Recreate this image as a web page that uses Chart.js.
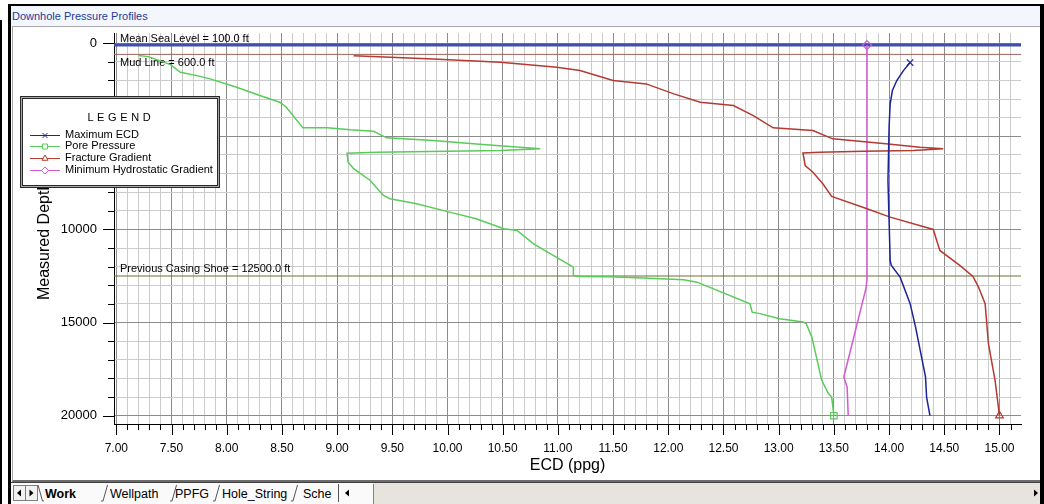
<!DOCTYPE html>
<html>
<head>
<meta charset="utf-8">
<title>Downhole Pressure Profiles</title>
<script src="https://cdn.jsdelivr.net/npm/chart.js@4.4.1/dist/chart.umd.min.js"></script>
<style>
  html, body { margin: 0; padding: 0; background: #fff; }
  #page { position: relative; width: 1044px; height: 504px; overflow: hidden; background: #fff;
          font-family: "Liberation Sans", Arial, sans-serif; }
  .edge { position: absolute; background: #000; }
  #titlebar { position: absolute; left: 11px; top: 6px; width: 1029px; height: 20px; background: #f3f6fc;
              color: #1d3c9b; font-size: 11px; line-height: 21px; padding-left: 1px; box-sizing: border-box; }
  #pane { position: absolute; left: 12px; top: 26px; width: 1028px; height: 456px; background: #fff;
          border-top: 1px solid #a8a8a8; border-left: 1px solid #a8a8a8; border-bottom: 2px solid #6c6c6c;
          box-sizing: border-box; }
  #tabs { position: absolute; left: 11px; top: 482px; }
  #tabs text { font-family: "Liberation Sans", Arial, sans-serif; font-size: 12.5px; fill: #000; }
  #chart { position: absolute; left: 0; top: 0; width: 1044px; height: 504px; }
</style>
</head>
<body>
<div id="page">
  <div class="edge" style="left:0;top:20px;width:2px;height:484px"></div>
  <div class="edge" style="left:8px;top:4px;width:3px;height:500px"></div>
  <div class="edge" style="left:8px;top:4px;width:1036px;height:2px"></div>
  <div class="edge" style="left:1040px;top:4px;width:4px;height:500px"></div>
  <div id="titlebar">Downhole Pressure Profiles</div>
  <div id="pane"></div>
  <svg id="tabs" width="1029" height="22" viewBox="0 0 1029 22">
    <rect x="0" y="0" width="1029" height="22" fill="#e6e4dc"/>
    <rect x="0" y="0" width="362" height="22" fill="#fafafa"/>
    <line x1="0" y1="0.5" x2="1029" y2="0.5" stroke="#404040"/>
    <rect x="2.5" y="3.5" width="12" height="15" fill="#f2f2f2" stroke="#808080"/>
    <rect x="14.5" y="3.5" width="12" height="15" fill="#f2f2f2" stroke="#808080"/>
    <polygon points="6,11 10,7.5 10,14.5" fill="#000"/>
    <polygon points="22.5,11 18.5,7.5 18.5,14.5" fill="#000"/>
    <polyline points="27,3 31.5,19 33,19" fill="none" stroke="#555"/>
    <text x="34" y="15.5" font-weight="bold">Work</text>
    <polyline points="90,19 92,19 96.5,3" fill="none" stroke="#555"/>
    <text x="99" y="15.5">Wellpath</text>
    <polyline points="159,19 161,19 165.5,3" fill="none" stroke="#555"/>
    <text x="164" y="15.5">PPFG</text>
    <polyline points="202,19 204,19 208.5,3" fill="none" stroke="#555"/>
    <text x="211" y="15.5">Hole_String</text>
    <polyline points="280,19 282,19 286.5,3" fill="none" stroke="#555"/>
    <text x="292" y="15.5">Sche</text>
    <line x1="327.5" y1="2" x2="327.5" y2="20" stroke="#555"/>
    <polygon points="334,11 338,7.5 338,14.5" fill="#000"/>
    <line x1="362.5" y1="2" x2="362.5" y2="22" stroke="#808080"/>
    <polygon points="1027,11 1023,7.5 1023,14.5" fill="#000"/>
  </svg>
  <canvas id="chart" width="1044" height="504"></canvas>
</div>
<script>
// Depth profiles: measured depth (ft) against equivalent circulating density (ppg)
const ecdDepth   = [1040, 1470, 2006, 2540, 3240, 4510, 7370, 9517, 11663, 11930, 12560, 13970, 15240, 17920, 19000, 20000];
const ecdValue   = [14.19, 14.13, 14.07, 14.03, 14.01, 14.00, 13.99, 14.00, 14.01, 14.02, 14.10, 14.19, 14.24, 14.33, 14.34, 14.37];

const poreDepth  = [665, 720, 1150, 1560, 1740, 1915, 2365, 2810, 3170, 3440,
                    4545, 4545, 4650, 4725, 5080, 5225, 5440, 5670, 5760, 5850,
                    5905, 6390, 6740, 7370, 8175, 8350, 8620, 9070, 9425, 9960,
                    10050, 10770, 11300, 12020, 12470, 12520, 12540, 12610, 12700, 12830,
                    13990, 14440, 14520, 14790, 14970, 15060, 15780, 18100, 18815, 19000, 20000];
const poreValue  = [7.20, 7.29, 7.49, 7.58, 7.73, 7.85, 8.09, 8.30, 8.48, 8.54,
                    8.69, 8.91, 9.12, 9.33, 9.45, 9.87, 10.32, 10.84, 10.48, 9.36,
                    9.09, 9.10, 9.15, 9.30, 9.42, 9.48, 9.72, 10.02, 10.26, 10.51,
                    10.63, 10.78, 10.93, 11.14, 11.14, 11.20, 11.47, 11.77, 12.14, 12.26,
                    12.74, 12.76, 12.83, 13.01, 13.22, 13.25, 13.30, 13.39, 13.45, 13.48, 13.50];

const fracDepth  = [680, 845, 1020, 1110, 1290, 1470, 2006, 2185, 2720, 3170,
                    3350, 3884, 4545, 4690, 5134, 5403, 5585, 5670, 5760, 5800,
                    5850, 5890, 6566, 6925, 7550, 8230, 8890, 9340, 10000, 11126,
                    11930, 12520, 13095, 13987, 16130, 18100, 20000];
const fracValue  = [9.15, 9.87, 10.48, 10.66, 10.99, 11.20, 11.50, 11.80, 12.05, 12.29,
                    12.59, 12.77, 12.95, 13.31, 13.49, 13.97, 14.28, 14.49, 14.22, 13.77,
                    13.37, 13.22, 13.24, 13.31, 13.40, 13.48, 13.80, 14.01, 14.40, 14.46,
                    14.64, 14.76, 14.81, 14.87, 14.90, 14.96, 15.00];

const hydroDepth = [100, 12700, 13180, 17925, 18460, 20000];
const hydroValue = [13.80, 13.80, 13.79, 13.59, 13.62, 13.63];

const seriesNames = ['Maximum ECD', 'Pore Pressure', 'Fracture Gradient', 'Minimum Hydrostatic Gradient'];

// Reference depths marked across the plot
const refNames  = ['Mean Sea Level', 'Mud Line', 'Previous Casing Shoe'];
const refDepths = [100, 600, 12500];

// Labelled tick values
const xTickLabels = [7.0, 7.5, 8.0, 8.5, 9.0, 9.5, 10.0, 10.5, 11.0, 11.5, 12.0, 12.5, 13.0, 13.5, 14.0, 14.5, 15.0];
const yTickLabels = [0, 5000, 10000, 15000, 20000];
const yGridStep = 1000;

const FONT = '"Liberation Sans", Arial, sans-serif';

const seriesStyle = [
  { color: '#1c2498', marker: 'crossRot', at: 'first' },
  { color: '#58cc58', marker: 'rect',     at: 'last'  },
  { color: '#b43a32', marker: 'triangle', at: 'last'  },
  { color: '#d458d4', marker: 'rectRot',  at: 'first' }
];
const refStyle = [
  { color: '#3e4fae', width: 3, dy: -3.5 },
  { color: '#9c6458', width: 1, dy: 11.5 },
  { color: '#6e6e32', width: 1, dy: -4 }
];

const isMajor = (v, list) => list.some(t => Math.abs(t - v) < 1e-6);
const toPoints = (xs, ys) => xs.map((x, i) => ({ x: x, y: ys[i] }));

const seriesData = [
  toPoints(ecdValue, ecdDepth),
  toPoints(poreValue, poreDepth),
  toPoints(fracValue, fracDepth),
  toPoints(hydroValue, hydroDepth)
];

const datasets = seriesData.map((pts, i) => {
  const st = seriesStyle[i];
  const markIdx = st.at === 'first' ? 0 : pts.length - 1;
  return {
    label: seriesNames[i],
    data: pts,
    showLine: true,
    borderColor: st.color,
    borderWidth: 1.5,
    tension: 0,
    pointStyle: st.marker,
    pointBorderColor: st.color,
    pointBackgroundColor: 'rgba(255,255,255,0)',
    pointBorderWidth: 1.2,
    pointRadius: ctx => (ctx.dataIndex === markIdx ? 4.5 : 0),
    pointHoverRadius: 0
  };
});

// Horizontal reference lines with their captions
const refLinePlugin = {
  id: 'refLines',
  beforeDatasetsDraw(chart) {
    const { ctx, chartArea: a, scales: { y } } = chart;
    refDepths.forEach((d, i) => {
      const st = refStyle[i];
      const py = y.getPixelForValue(d);
      ctx.save();
      ctx.strokeStyle = st.color;
      ctx.lineWidth = st.width;
      ctx.beginPath();
      ctx.moveTo(a.left, py);
      ctx.lineTo(a.right, py);
      ctx.stroke();
      ctx.fillStyle = '#000';
      ctx.font = '11px ' + FONT;
      ctx.textAlign = 'left';
      ctx.textBaseline = 'alphabetic';
      ctx.fillText(refNames[i] + ' = ' + d.toFixed(1) + ' ft', a.left + 6, py + st.dy);
      ctx.restore();
    });
  }
};

// Tick marks, axis titles and the boxed legend
const decorPlugin = {
  id: 'decor',
  afterDraw(chart) {
    const { ctx, chartArea: a, scales: { x, y } } = chart;
    ctx.save();
    ctx.strokeStyle = '#000';
    ctx.lineWidth = 1;
    ctx.beginPath();
    x.ticks.forEach(t => {
      const px = Math.round(x.getPixelForValue(t.value)) + 0.5;
      const len = isMajor(t.value, xTickLabels) ? 11 : 6;
      ctx.moveTo(px, a.bottom);
      ctx.lineTo(px, a.bottom + len);
    });
    y.ticks.forEach(t => {
      const py = Math.round(y.getPixelForValue(t.value)) + 0.5;
      const len = isMajor(t.value, yTickLabels) ? 11 : 6;
      ctx.moveTo(a.left, py);
      ctx.lineTo(a.left - len, py);
    });
    ctx.stroke();

    // axis titles
    ctx.fillStyle = '#000';
    ctx.font = '16px ' + FONT;
    ctx.textAlign = 'center';
    ctx.textBaseline = 'alphabetic';
    ctx.fillText('ECD (ppg)', (a.left + a.right) / 2, 469.5);
    ctx.save();
    ctx.translate(49, 300);
    ctx.rotate(-Math.PI / 2);
    ctx.textAlign = 'left';
    ctx.fillText('Measured Depth (ft)', 0, 0);
    ctx.restore();

    // legend box
    const lx = 20, ly = 96, lw = 200, lh = 92;
    ctx.fillStyle = '#2a2a2a'; ctx.fillRect(lx, ly, lw, lh);
    ctx.fillStyle = '#a8a8a8'; ctx.fillRect(lx + 1, ly + 1, lw - 2, lh - 2);
    ctx.fillStyle = '#2a2a2a'; ctx.fillRect(lx + 2, ly + 2, lw - 4, lh - 4);
    ctx.fillStyle = '#ffffff'; ctx.fillRect(lx + 3, ly + 3, lw - 6, lh - 6);

    ctx.fillStyle = '#000';
    ctx.font = '11px ' + FONT;
    ctx.textBaseline = 'middle';
    ctx.textAlign = 'left';
    const word = 'LEGEND';
    const gap = 3.6;
    let total = 0;
    for (const ch of word) total += ctx.measureText(ch).width + gap;
    total -= gap;
    let cx = 119 - total / 2;
    for (const ch of word) {
      ctx.fillText(ch, cx, 118);
      cx += ctx.measureText(ch).width + gap;
    }

    chart.data.datasets.forEach((ds, i) => {
      const ry = 134.5 + i * 11.7;
      const st = seriesStyle[i];
      ctx.strokeStyle = st.color;
      ctx.lineWidth = 1;
      ctx.beginPath();
      ctx.moveTo(30, Math.round(ry) + 0.5);
      ctx.lineTo(60, Math.round(ry) + 0.5);
      ctx.stroke();
      ctx.fillStyle = '#fff';
      Chart.helpers.drawPoint(ctx, { pointStyle: st.marker, rotation: 0, radius: 3.5, borderWidth: 1 }, 45, Math.round(ry) + 0.5);
      ctx.fillStyle = '#000';
      ctx.fillText(ds.label, 65, ry);
    });
    ctx.restore();
  }
};

new Chart(document.getElementById('chart'), {
  type: 'scatter',
  data: { datasets: datasets },
  options: {
    responsive: false,
    devicePixelRatio: 1,
    animation: false,
    events: [],
    layout: { padding: { left: 0, top: 33, right: 23, bottom: 0 } },
    plugins: { legend: { display: false }, tooltip: { enabled: false } },
    scales: {
      x: {
        type: 'linear',
        position: 'bottom',
        min: 6.979,
        max: 15.195,
        afterFit: s => { s.height = 80; },
        border: { display: true, color: '#000', width: 1 },
        grid: {
          drawTicks: false,
          lineWidth: 1,
          color: c => (c.tick && isMajor(c.tick.value, xTickLabels) ? '#8c8c8c' : '#cbcbcb')
        },
        ticks: {
          stepSize: 0.1,
          includeBounds: false,
          autoSkip: false,
          maxRotation: 0,
          minRotation: 0,
          padding: 17,
          color: '#000',
          font: { family: FONT, size: 12 },
          callback: v => (isMajor(v, xTickLabels) ? Number(v).toFixed(2) : '')
        }
      },
      y: {
        type: 'linear',
        reverse: true,
        min: -548,
        max: 20446,
        afterFit: s => { s.width = 114; },
        afterBuildTicks: s => {
          const list = [];
          for (let v = 0; v <= s.max; v += yGridStep) list.push({ value: v });
          s.ticks = list;
        },
        border: { display: true, color: '#000', width: 1 },
        grid: {
          drawTicks: false,
          lineWidth: 1,
          color: c => (c.tick && isMajor(c.tick.value, yTickLabels) ? '#8c8c8c' : '#cbcbcb')
        },
        ticks: {
          autoSkip: false,
          padding: 17,
          color: '#000',
          font: { family: FONT, size: 13 },
          callback: v => (isMajor(v, yTickLabels) ? String(v) : '')
        }
      }
    }
  },
  plugins: [refLinePlugin, decorPlugin]
});
</script>
</body>
</html>
